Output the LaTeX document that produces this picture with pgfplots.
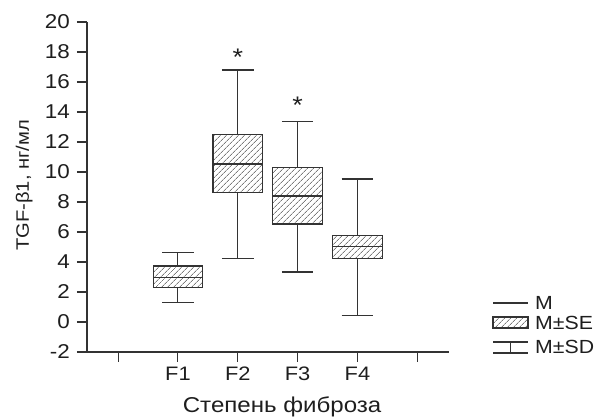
\documentclass[border=0pt]{standalone}
\usepackage{pgfplots}
\pgfplotsset{compat=1.18}
\usepgfplotslibrary{statistics}
\usetikzlibrary{patterns.meta}
\usepackage{fontspec}
\setmainfont{Liberation Sans}[FakeStretch=1.12]
\definecolor{ink}{HTML}{333333}
\definecolor{txt}{HTML}{1E1E1E}
\tikzset{hatch/.style={pattern={Lines[angle=45,distance=4pt,line width=0.6pt]}, pattern color=ink}}
\begin{document}
\begin{tikzpicture}[x=1pt,y=1pt]
\useasboundingbox (-87,-65) rectangle (511,352);
\begin{axis}[at={(0,0)}, anchor=south west, scale only axis,
  width=362pt, height=330pt,
  xmin=-0.52, xmax=5.53, ymin=-2, ymax=20,
  boxplot/draw direction=y,
  axis x line*=bottom, axis y line*=left,
  axis line style={ink, line width=1.1pt},
  xtick={0,1,2,3,4,5}, xticklabels={,F1,F2,F3,F4,},
  ytick={-2,0,2,4,6,8,10,12,14,16,18,20},
  yticklabels={-2,0,2,4,6,8,10,12,14,16,18,20},
  tick align=outside, major tick length=10pt,
  tick style={ink, line width=1.1pt},
  x tick label style={font=\fontsize{19.5}{21}\selectfont, text=txt, inner sep=0pt, anchor=north, yshift=-5pt},
  y tick label style={font=\fontsize{20}{22}\selectfont, text=txt, inner sep=0pt, anchor=east, xshift=-7pt},
  xlabel={Степень фиброза},
  every axis x label/.style={at={(axis description cs:0.539,0)}, anchor=base, yshift=-61pt, font=\fontsize{21.5}{23}\selectfont, text=txt},
  ylabel={TGF-β1, нг/мл},
  every axis y label/.style={at={(axis description cs:0,0.505)}, xshift=-58pt, rotate=90, anchor=base, font=\fontsize{18}{20}\selectfont, text=txt},
  clip=false,
]
\addplot[ink, line width=1.1pt, boxplot/every box/.style={hatch},
  boxplot prepared={draw position=1, median=2.95, upper quartile=3.73, lower quartile=2.27,
    upper whisker=4.62, lower whisker=1.27, box extend=0.83, whisker extend=0.53}] coordinates {};
\addplot[ink, line width=1.1pt, boxplot/every box/.style={hatch},
  boxplot prepared={draw position=2, median=10.53, upper quartile=12.47, lower quartile=8.62,
    upper whisker=16.8, lower whisker=4.22, box extend=0.83, whisker extend=0.53}] coordinates {};
\addplot[ink, line width=1.1pt, boxplot/every box/.style={hatch},
  boxplot prepared={draw position=3, median=8.4, upper quartile=10.31, lower quartile=6.53,
    upper whisker=13.35, lower whisker=3.33, box extend=0.83, whisker extend=0.53}] coordinates {};
\addplot[ink, line width=1.1pt, boxplot/every box/.style={hatch},
  boxplot prepared={draw position=4, median=5.02, upper quartile=5.76, lower quartile=4.22,
    upper whisker=9.53, lower whisker=0.42, box extend=0.83, whisker extend=0.53}] coordinates {};
\node[font=\fontsize{24}{24}\selectfont, text=txt, anchor=base, inner sep=0pt] at (axis cs:2,17.13) {*};
\node[font=\fontsize{24}{24}\selectfont, text=txt, anchor=base, inner sep=0pt] at (axis cs:3,13.87) {*};
\end{axis}
% legend
\draw[ink, line width=1.1pt] (406,49) -- (441,49);
\draw[ink, line width=1.1pt, hatch] (406,24) rectangle (441,35);
\draw[ink, line width=1.1pt] (406,10) -- (441,10) (406,-1) -- (441,-1) (423.5,10) -- (423.5,-1);
\begin{scope}[every node/.style={font=\fontsize{19}{21}\selectfont, text=txt, anchor=west, inner sep=0pt}]
\node at (448,49) {M};
\node at (448,29.5) {M±SE};
\node at (448,5) {M±SD};
\end{scope}
\end{tikzpicture}
\end{document}
